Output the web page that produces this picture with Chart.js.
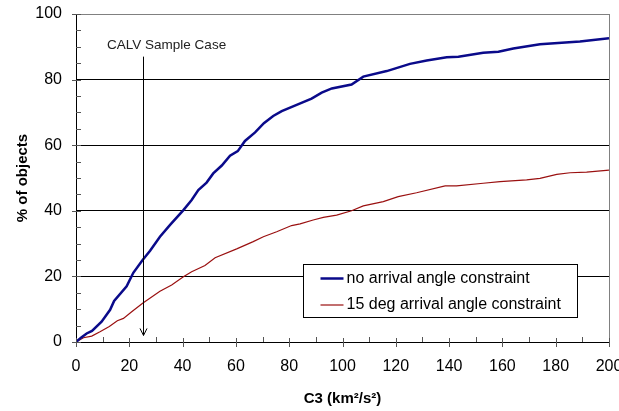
<!DOCTYPE html>
<html lang="en">
<head>
    <meta charset="UTF-8">
    <title>C3 vs % of objects</title>
    <script src="https://cdn.jsdelivr.net/npm/chart.js@4.4.1/dist/chart.umd.min.js"></script>
    <style>
        body {
            margin: 0;
            background: #fff;
        }
        #wrap {
            width: 619px;
            height: 411px;
        }
    </style>
</head>
<body>
    <div id="wrap"><canvas id="chart" width="619" height="411"></canvas></div>

    <script>
        // Data
        const c3NoConstraint = [0, 2, 4, 6, 9.6, 12.8, 14.3, 19, 21.5, 25, 27.8, 31.5, 35.3, 40.3, 43.4, 45.9, 49, 51.5,
            54.7, 57.8, 60.7, 63.4, 67.2, 70.5, 74, 77.2, 82.8, 88.4, 92.2, 96, 103.4, 107.8, 116.6, 125.3, 131.6,
            139.1, 143.5, 152.8, 158.5, 164.1, 174.1, 189.1, 200];
        const pctNoConstraint = [0, 1.4, 2.6, 3.4, 6.2, 9.8, 12.5, 17, 21.1, 25, 27.8, 32.1, 35.7, 40.2, 43.3, 46.3, 48.6, 51.4,
            53.8, 56.8, 58.2, 61.3, 63.9, 66.7, 68.9, 70.4, 72.3, 74.2, 76, 77.3, 78.5, 80.9, 82.6, 84.8, 85.8,
            86.8, 87, 88.2, 88.5, 89.5, 90.8, 91.6, 92.6];

        const c3Deg15 = [0, 2.8, 5.9, 9, 12.5, 15.5, 17.8, 20.9, 25, 31.5, 35.9, 40.3, 43.4, 48.4, 52.2, 60.3, 66.5, 70.3,
            75.3, 80.9, 84.1, 89, 92.8, 97.8, 103.4, 107.8, 115.3, 120.9, 127.8, 138.5, 142.8, 152.8, 159.1, 169.1,
            174.1, 180.4, 185.4, 191.6, 200];
        const pctDeg15 = [0, 1.3, 1.8, 3.1, 4.7, 6.5, 7.2, 9.2, 11.8, 15.5, 17.4, 19.9, 21.4, 23.3, 25.7, 28.4, 30.6, 32.1,
            33.6, 35.5, 36, 37.2, 38, 38.7, 40, 41.5, 42.8, 44.3, 45.5, 47.6, 47.6, 48.4, 48.9, 49.4,
            49.9, 51.1, 51.6, 51.8, 52.4];

        const seriesLabels = ['no arrival angle constraint', '15 deg arrival angle constraint'];
        const xTickLabels = ['0', '20', '40', '60', '80', '100', '120', '140', '160', '180', '200'];
        const yTickLabels = ['0', '20', '40', '60', '80', '100'];

        // "CALV Sample Case" marker
        const calvC3 = 25;
        const calvArrowTop = 87;
        const calvArrowBottom = 2;
        const calvLabel = 'CALV Sample Case';
        const calvLabelX = 34;
        const calvLabelY = 90.5;

        const FONT = "'Liberation Sans', Arial, sans-serif";

        function toPoints(xs, ys) {
            return xs.map((x, i) => ({ x: x, y: ys[i] }));
        }

        // minor / major ticks, the CALV arrow and the boxed legend
        const decorations = {
            id: 'decorations',
            afterDraw(chart) {
                const ctx = chart.ctx;
                const xs = chart.scales.x;
                const ys = chart.scales.y;
                const area = chart.chartArea;
                ctx.save();

                // ticks on x axis
                ctx.strokeStyle = '#555';
                ctx.lineWidth = 1;
                for (let v = 0; v <= 200; v += 10) {
                    const px = Math.round(xs.getPixelForValue(v)) + 0.5;
                    const major = v % 20 === 0;
                    ctx.beginPath();
                    ctx.moveTo(px, area.bottom - (major ? 4 : 5));
                    ctx.lineTo(px, area.bottom + (major ? 5 : 0));
                    ctx.stroke();
                }
                // ticks on y axis
                for (let v = 0; v <= 100; v += 5) {
                    const py = Math.round(ys.getPixelForValue(v)) + 0.5;
                    const major = v % 20 === 0;
                    ctx.beginPath();
                    ctx.moveTo(area.left - (major ? 4 : 0), py);
                    ctx.lineTo(area.left + 5, py);
                    ctx.stroke();
                }

                // CALV arrow
                const ax = Math.round(xs.getPixelForValue(calvC3)) + 0.5;
                const aTop = ys.getPixelForValue(calvArrowTop);
                const aBot = ys.getPixelForValue(calvArrowBottom);
                ctx.strokeStyle = '#000';
                ctx.beginPath();
                ctx.moveTo(ax, aTop);
                ctx.lineTo(ax, aBot);
                ctx.moveTo(ax - 3.5, aBot - 7);
                ctx.lineTo(ax, aBot);
                ctx.lineTo(ax + 3.5, aBot - 7);
                ctx.stroke();

                ctx.fillStyle = '#222';
                ctx.font = '13.5px ' + FONT;
                ctx.textAlign = 'center';
                ctx.textBaseline = 'middle';
                ctx.fillText(calvLabel, xs.getPixelForValue(calvLabelX), ys.getPixelForValue(calvLabelY));

                // legend box
                const bw = 274, bh = 53;
                const bx = Math.round(area.right - 32 - bw) + 0.5;
                const by = Math.round(area.bottom - 25 - bh) + 0.5;
                ctx.fillStyle = '#fff';
                ctx.fillRect(bx, by, bw, bh);
                ctx.strokeStyle = '#000';
                ctx.strokeRect(bx, by, bw, bh);
                ctx.textAlign = 'left';
                ctx.font = '16px ' + FONT;
                chart.data.datasets.forEach((ds, i) => {
                    const cy = by + 14 + i * 26.5;
                    ctx.strokeStyle = ds.borderColor;
                    ctx.lineWidth = ds.borderWidth;
                    ctx.beginPath();
                    ctx.moveTo(bx + 17, cy);
                    ctx.lineTo(bx + 40, cy);
                    ctx.stroke();
                    ctx.fillStyle = '#000';
                    ctx.fillText(ds.label, bx + 43, cy);
                });

                ctx.restore();
            }
        };

        new Chart(document.getElementById('chart'), {
            type: 'line',
            data: {
                datasets: [
                    {
                        label: seriesLabels[0],
                        data: toPoints(c3NoConstraint, pctNoConstraint),
                        borderColor: '#0a0a8a',
                        borderWidth: 2.5,
                        pointRadius: 0,
                        tension: 0,
                        fill: false
                    },
                    {
                        label: seriesLabels[1],
                        data: toPoints(c3Deg15, pctDeg15),
                        borderColor: '#9a1010',
                        borderWidth: 1.2,
                        pointRadius: 0,
                        tension: 0,
                        fill: false
                    }
                ]
            },
            options: {
                responsive: false,
                animation: false,
                layout: {
                    padding: { left: 6, top: 14, right: 10, bottom: 0 }
                },
                plugins: {
                    legend: { display: false },
                    tooltip: { enabled: false }
                },
                scales: {
                    x: {
                        type: 'linear',
                        min: 0,
                        max: 200,
                        afterFit: function(scale) {
                            scale.height = 69;
                            // let the last label run off the edge like the original
                            scale.paddingLeft = 0;
                            scale.paddingRight = 0;
                        },
                        ticks: {
                            stepSize: 20,
                            padding: 15,
                            color: '#000',
                            font: { family: FONT, size: 16 },
                            callback: function(value) {
                                return xTickLabels[xTickLabels.indexOf(String(value))] || '';
                            }
                        },
                        grid: {
                            drawTicks: false,
                            lineWidth: 1,
                            color: ctx => (ctx.tick && ctx.tick.value === 200) ? '#808080' : 'rgba(0,0,0,0)'
                        },
                        border: { display: true, color: '#000', width: 1 },
                        title: {
                            display: true,
                            text: 'C3 (km\u00b2/s\u00b2)',
                            color: '#000',
                            padding: { top: 4, bottom: 3 },
                            font: { family: FONT, size: 15, weight: 'bold' }
                        }
                    },
                    y: {
                        type: 'linear',
                        min: 0,
                        max: 100,
                        afterFit: function(scale) {
                            scale.width = 70;
                            scale.paddingTop = 0;
                            scale.paddingBottom = 0;
                        },
                        ticks: {
                            stepSize: 20,
                            padding: 14,
                            color: '#000',
                            font: { family: FONT, size: 16 },
                            callback: function(value) {
                                return yTickLabels[yTickLabels.indexOf(String(value))] || '';
                            }
                        },
                        grid: {
                            drawTicks: false,
                            lineWidth: 1,
                            color: ctx => (ctx.tick && ctx.tick.value === 100) ? '#808080' : '#000'
                        },
                        border: { display: true, color: '#000', width: 1 },
                        title: {
                            display: true,
                            text: '% of objects',
                            color: '#000',
                            padding: { top: 8, bottom: 4 },
                            font: { family: FONT, size: 15, weight: 'bold' }
                        }
                    }
                }
            },
            plugins: [decorations]
        });
    </script>
</body>
</html>
